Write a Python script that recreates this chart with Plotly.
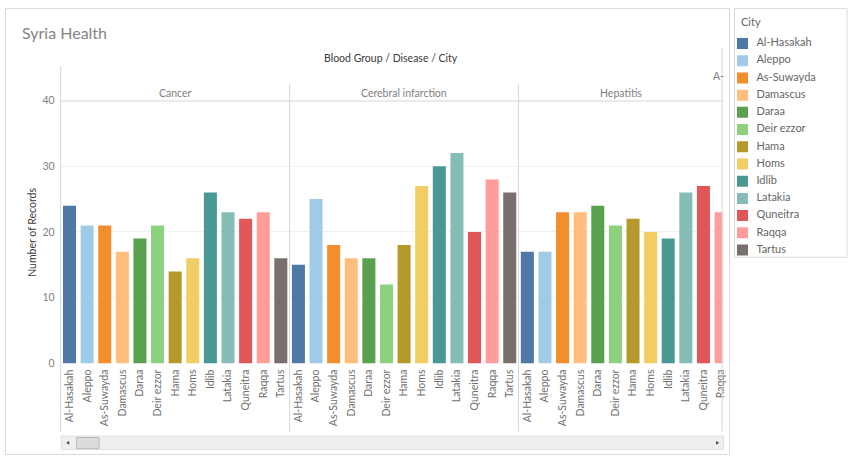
import plotly.graph_objects as go

# ---------------- data ----------------
cities = ["Al-Hasakah", "Aleppo", "As-Suwayda", "Damascus", "Daraa", "Deir ezzor",
          "Hama", "Homs", "Idlib", "Latakia", "Quneitra", "Raqqa", "Tartus"]
city_colors = ["#4E79A7", "#A0CBE8", "#F28E2B", "#FFBE7D", "#59A14F", "#8CD17D",
               "#B6992D", "#F1CE63", "#499894", "#86BCB6", "#E15759", "#FF9D9A", "#79706E"]
diseases = ["Cancer", "Cerebral infarction", "Hepatitis"]
cancer = [24, 21, 21, 17, 19, 21, 14, 16, 26, 23, 22, 23, 16]
cerebral_infarction = [15, 25, 18, 16, 16, 12, 18, 27, 30, 32, 20, 28, 26]
hepatitis = [17, 17, 23, 23, 24, 21, 22, 20, 19, 26, 27, 23]  # Tartus scrolled out of view
next_blood_group = "A-"
y_ticks = [0, 10, 20, 30, 40]
title_text = "Syria Health"
header_text = "Blood Group / Disease / City"
y_title = "Number of Records"
legend_title = "City"

series = [cancer, cerebral_infarction, hepatitis]

# ---------------- layout helpers ----------------
W, H = 849, 462
FONT = "Lato"


def fx(px):
    return px / W


def fy(py):
    return 1 - py / H


PLOT_L, PLOT_R, PLOT_T, PLOT_B = 61, 726, 97, 367
n = len(cities)
slot = 230 / n
x_max = -0.5 + (PLOT_R - PLOT_L) / slot

fig = go.Figure()

for i, city in enumerate(cities):
    xs, ys = [], []
    for d, vals in enumerate(series):
        if i < len(vals):
            xs.append(d * n + i)
            ys.append(vals[i])
    fig.add_trace(go.Bar(x=xs, y=ys, name=city, marker=dict(color=city_colors[i], line=dict(width=0)),
                         width=0.74, showlegend=False, xaxis="x", yaxis="y"))

# custom legend (squares + labels) on its own axes
leg_idx = list(range(n))
fig.add_trace(go.Scatter(x=[8] * n, y=leg_idx, mode="markers",
                         marker=dict(symbol="square", size=11, color=city_colors, line=dict(width=0)),
                         showlegend=False, hoverinfo="skip", xaxis="x2", yaxis="y2"))
fig.add_trace(go.Scatter(x=[22] * n, y=leg_idx, mode="text", text=cities,
                         textposition="middle right",
                         textfont=dict(family=FONT, size=11, color="#666666"),
                         showlegend=False, hoverinfo="skip", xaxis="x2", yaxis="y2"))

tickvals = [d * n + i for d in range(len(diseases)) for i in range(n)]
ticktext = cities * len(diseases)

fig.update_layout(
    width=W, height=H,
    margin=dict(l=0, r=0, t=0, b=0),
    paper_bgcolor="white", plot_bgcolor="white",
    barmode="overlay",
    font=dict(family=FONT, size=10, color="#666666"),
    xaxis=dict(domain=[fx(PLOT_L), fx(PLOT_R)], range=[-0.5, x_max],
               tickmode="array", tickvals=tickvals, ticktext=ticktext,
               tickangle=-90, tickfont=dict(size=10.5, color="#707070"),
               showgrid=False, zeroline=False, showline=False, ticks="",
               ticklabelstandoff=3, fixedrange=True),
    yaxis=dict(domain=[fy(PLOT_B), fy(PLOT_T)], range=[0, 40],
               tickmode="array", tickvals=y_ticks,
               tickfont=dict(size=10.5, color="#808080"),
               showgrid=True, gridcolor="#f0f0f0", gridwidth=1,
               zeroline=False, showline=False, ticks="", ticklabelstandoff=5),
    xaxis2=dict(domain=[fx(738), 1], range=[0, W - 738], visible=False, fixedrange=True),
    yaxis2=dict(domain=[fy(38.5 + 12.5 * 17.67), fy(38.5 - 0.5 * 17.67)],
                range=[n - 0.5, -0.5], visible=False, fixedrange=True),
)

line_col = "#d6d6d6"
shapes = [
    # outer frame of the view
    dict(type="rect", xref="paper", yref="paper", x0=fx(5.5), x1=fx(733), y0=fy(460.5), y1=fy(2.5),
         line=dict(color="#dadada", width=1), layer="below"),
    # legend frame
    dict(type="rect", xref="paper", yref="paper", x0=fx(738), x1=fx(851), y0=fy(258), y1=fy(2.5),
         line=dict(color="#dadada", width=1)),
    # left axis line
    dict(type="line", xref="paper", yref="paper", x0=fx(61), x1=fx(61), y0=fy(62), y1=fy(437),
         line=dict(color=line_col, width=1)),
    # right edge line
    dict(type="line", xref="paper", yref="paper", x0=fx(725.5), x1=fx(725.5), y0=fy(43), y1=fy(437),
         line=dict(color=line_col, width=1)),
    # header bottom line
    dict(type="line", xref="paper", yref="paper", x0=fx(61), x1=fx(725.5), y0=fy(97.5), y1=fy(97.5),
         line=dict(color=line_col, width=1)),
]
# dividers between disease panes
for d in range(1, len(diseases)):
    shapes.append(dict(type="line", xref="x", yref="paper", x0=d * n - 0.5, x1=d * n - 0.5,
                       y0=fy(80), y1=fy(437), line=dict(color=line_col, width=1)))
# scrollbar
shapes += [
    dict(type="rect", xref="paper", yref="paper", x0=fx(61.5), x1=fx(727), y0=fy(455.5), y1=fy(441.5),
         fillcolor="#efefef", line=dict(color="#e2e2e2", width=1)),
    dict(type="rect", xref="paper", yref="paper", x0=fx(77), x1=fx(99.5), y0=fy(454.5), y1=fy(443),
         fillcolor="#dcdcdc", line=dict(color="#b8b8b8", width=1)),
    dict(type="path", xref="paper", yref="paper",
         path=f"M {fx(66.5)} {fy(448.5)} L {fx(69.5)} {fy(446.5)} L {fx(69.5)} {fy(450.5)} Z",
         fillcolor="#444444", line=dict(width=0)),
    dict(type="path", xref="paper", yref="paper",
         path=f"M {fx(722.5)} {fy(448.5)} L {fx(719.5)} {fy(446.5)} L {fx(719.5)} {fy(450.5)} Z",
         fillcolor="#444444", line=dict(width=0)),
]
fig.update_layout(shapes=shapes)

ann = [
    dict(text=title_text, x=fx(20), y=fy(27), xanchor="left", yanchor="middle",
         font=dict(family=FONT, size=16, color="#858585")),
    dict(text=header_text, x=fx(393), y=fy(53), xanchor="center", yanchor="middle",
         font=dict(family=FONT, size=10.5, color="#3a3a3a")),
    dict(text=next_blood_group, x=fx(714), y=fy(72), xanchor="left", yanchor="middle",
         font=dict(family=FONT, size=10.5, color="#808080")),
    dict(text=y_title, x=fx(32), y=fy(232), xanchor="center", yanchor="middle", textangle=-90,
         font=dict(family=FONT, size=10.5, color="#3a3a3a")),
    dict(text=legend_title, x=fx(743), y=fy(16), xanchor="left", yanchor="middle",
         font=dict(family=FONT, size=11, color="#666666")),
]
for d, name in enumerate(diseases):
    lo = d * n - 0.5
    hi = min((d + 1) * n - 0.5, x_max)
    ann.append(dict(text=name, xref="x", x=(lo + hi) / 2, y=fy(89), xanchor="center", yanchor="middle",
                    font=dict(family=FONT, size=10.5, color="#808080")))
for a in ann:
    a.setdefault("xref", "paper")
    a.setdefault("yref", "paper")
    a["showarrow"] = False
fig.update_layout(annotations=ann)

fig.write_html("out.html")
